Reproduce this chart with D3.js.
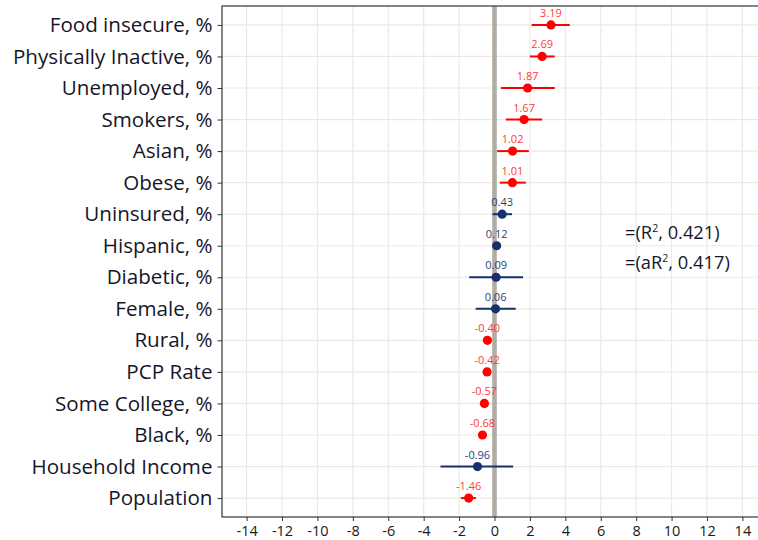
<!DOCTYPE html>
<html><head><meta charset="utf-8">
<script src="https://cdn.jsdelivr.net/npm/d3@7"></script>
<style>body{margin:0;background:#fff}svg{display:block}</style>
</head><body>
<svg id="c" width="758" height="540"></svg>
<script>
const categories = ["Food insecure, %","Physically Inactive, %","Unemployed, %","Smokers, %","Asian, %","Obese, %","Uninsured, %","Hispanic, %","Diabetic, %","Female, %","Rural, %","PCP Rate","Some College, %","Black, %","Household Income","Population"];
const estimates = [3.19,2.69,1.87,1.67,1.02,1.01,0.43,0.12,0.09,0.06,-0.40,-0.42,-0.57,-0.68,-0.96,-1.46];
const lower = [2.1,2.0,0.36,0.64,0.15,0.3,-0.11,-0.08,-1.43,-1.06,-0.55,-0.57,-0.8,-0.85,-3.05,-1.9];
const upper = [4.25,3.4,3.4,2.69,1.94,1.77,0.99,0.32,1.61,1.2,-0.25,-0.27,-0.34,-0.5,1.05,-1.05];
const xTicks = [-14,-12,-10,-8,-6,-4,-2,0,2,4,6,8,10,12,14];
const fitStats = [["R","0.421"],["aR","0.417"]];

const svg = d3.select("#c");
const L = 222, T = 6, B = 517, R = 767;
const x = d3.scaleLinear().domain([-15.39, 15.39]).range([L, R]);
const y = d3.scalePoint().domain(categories).range([T, B]).padding(0.6);

const data = categories.map((c,i)=>({c, est:estimates[i], lo:lower[i], hi:upper[i], sig: lower[i]>0 || upper[i]<0}));
const RED = "#ff0000", NAVY = "#15306a";

// grid
const g = svg.append("g");
g.selectAll(".vg").data(xTicks).join("line")
  .attr("x1",d=>x(d)).attr("x2",d=>x(d)).attr("y1",T).attr("y2",B)
  .attr("stroke","#ece9e4").attr("stroke-width",1.2);
g.selectAll(".hg").data(categories).join("line")
  .attr("x1",L).attr("x2",R).attr("y1",d=>y(d)).attr("y2",d=>y(d))
  .attr("stroke","#ece9e4").attr("stroke-width",1.2);

// zero line
svg.append("line").attr("x1",x(0)).attr("x2",x(0)).attr("y1",T).attr("y2",B)
  .attr("stroke","#b3aca4").attr("stroke-width",4.6);

// CIs
svg.selectAll(".ci").data(data).join("line")
  .attr("x1",d=>x(d.lo)).attr("x2",d=>x(d.hi)).attr("y1",d=>y(d.c)).attr("y2",d=>y(d.c))
  .attr("stroke",d=>d.sig?RED:NAVY).attr("stroke-width",2);
svg.selectAll(".pt").data(data).join("circle")
  .attr("cx",d=>x(d.est)).attr("cy",d=>y(d.c)).attr("r",4.6)
  .attr("fill",d=>d.sig?RED:NAVY);
svg.selectAll(".lab").data(data).join("text")
  .attr("x",d=>x(d.est)).attr("y",d=>y(d.c)-8)
  .attr("text-anchor","middle").attr("font-family","Open Sans, sans-serif").attr("font-size",11)
  .attr("fill",d=>d.sig?"#ff3b3b":"#2b4477")
  .text(d=>d.est.toFixed(2));

// panel border
svg.append("rect").attr("x",L).attr("y",T).attr("width",R-L).attr("height",B-T)
  .attr("fill","none").attr("stroke","#333").attr("stroke-width",1.2);

// axes
const ax = svg.append("g").attr("transform",`translate(0,${B})`)
  .call(d3.axisBottom(x).tickValues(xTicks).tickSize(4).tickPadding(5).tickFormat(d=>String(d)));
ax.select(".domain").remove();
ax.selectAll("line").attr("stroke","#333");
ax.selectAll("text").attr("font-family","Open Sans, sans-serif").attr("font-size",14.5).attr("fill","#1a1a1a");

const ay = svg.append("g").attr("transform",`translate(${L},0)`)
  .call(d3.axisLeft(y).tickSize(4.5).tickPadding(5));
ay.select(".domain").remove();
ay.selectAll("line").attr("stroke","#333");
ay.selectAll("text").attr("font-family","Open Sans, sans-serif").attr("font-size",20.6).attr("fill","#16162a");

// fit stats
const st = svg.append("g");
fitStats.forEach((s,i)=>{
  const t = st.append("text").attr("x",625).attr("y",239+i*30)
    .attr("font-family","Open Sans, sans-serif").attr("font-size",18.3).attr("fill","#16162a");
  t.append("tspan").text("=(" + s[0]);
  t.append("tspan").attr("font-size",10.5).attr("dy",-7).text("2");
  t.append("tspan").attr("dy",7).text(", " + s[1] + ")");
});
</script>
</body></html>
